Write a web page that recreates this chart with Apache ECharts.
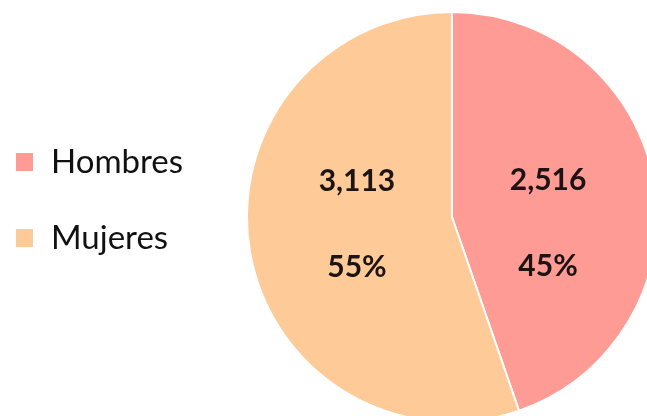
<!DOCTYPE html>
<html lang="es">
<head>
    <meta charset="UTF-8">
    <title>Hombres y Mujeres</title>
    <script src="https://cdn.jsdelivr.net/npm/echarts@6/dist/echarts.min.js"></script>
    <style>
        html, body { margin: 0; padding: 0; background: #fff; }
    </style>
</head>
<body>
<div id="dom" style="width: 647px;height: 416px"></div>
<script>
    var categories = ['Hombres', 'Mujeres'];
    var values = [2516, 3113];
    var colors = ['#fe9b95', '#fecb98'];
    // nudge each label to where it sits in the picture
    var labelOffsets = [[-8, 24], [9, -10]];

    var dom = document.getElementById("dom");
    var myCharts = echarts.init(dom);

    var pieData = categories.map(function (name, i) {
        return {
            name: name,
            value: values[i],
            itemStyle: { color: colors[i] },
            label: { offset: labelOffsets[i] }
        };
    });

    var option = {
        animation: false,
        legend: {
            orient: 'vertical',
            left: 9,
            top: 138,
            icon: 'rect',
            itemWidth: 19,
            itemHeight: 20,
            itemGap: 38,
            data: categories,
            textStyle: {
                fontFamily: 'Lato',
                fontSize: 33,
                lineHeight: 38,
                color: '#111',
                padding: [0, 0, 0, 12]
            }
        },
        series: [
            {
                type: 'pie',
                center: [452, 217],
                radius: 205,
                startAngle: 90,
                clockwise: true,
                itemStyle: { borderColor: '#fff', borderWidth: 2 },
                label: {
                    position: 'inside',
                    formatter: function (p) {
                        return '{v|' + echarts.format.addCommas(p.value) + '}\n{v|' + Math.round(p.percent) + '%}';
                    },
                    rich: {
                        v: {
                            fontFamily: 'Lato',
                            fontWeight: 'bold',
                            fontSize: 30,
                            color: '#1c1414',
                            lineHeight: 86
                        }
                    }
                },
                labelLine: { show: false },
                data: pieData
            }
        ]
    };
    myCharts.setOption(option);
</script>
</body>
</html>
